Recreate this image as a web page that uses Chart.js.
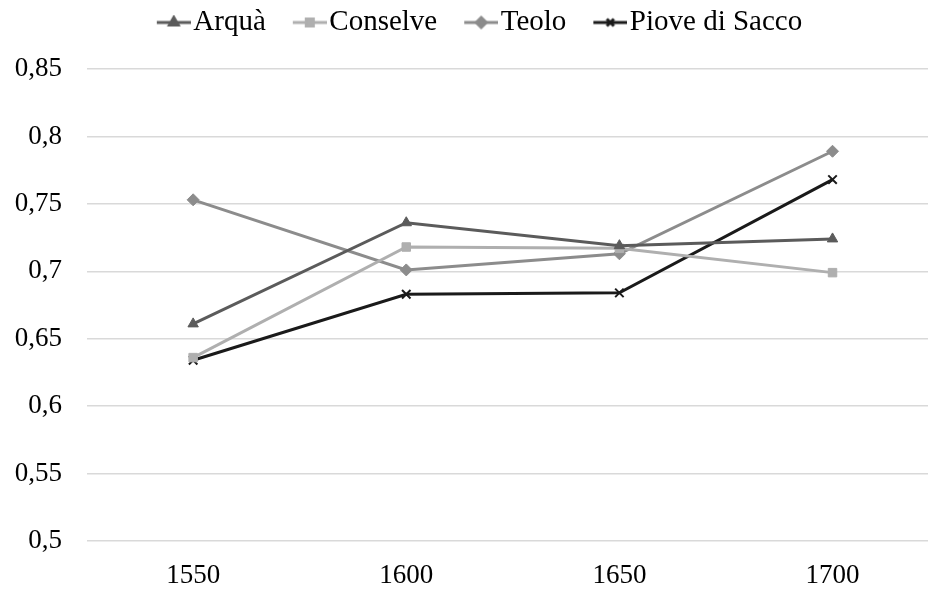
<!DOCTYPE html>
<html>
<head>
<meta charset="utf-8">
<script src="https://cdn.jsdelivr.net/npm/chart.js@4/dist/chart.umd.min.js"></script>
<style>
  html, body { margin: 0; padding: 0; background: #fff; }
  #wrap { width: 928px; height: 589px; }
</style>
</head>
<body>
<div id="wrap"><canvas id="chart" width="928" height="589"></canvas></div>
<script>
const years = [1550, 1600, 1650, 1700];
const arqua = [0.661, 0.736, 0.719, 0.724];
const conselve = [0.636, 0.718, 0.717, 0.699];
const teolo = [0.753, 0.701, 0.713, 0.789];
const pioveDiSacco = [0.634, 0.683, 0.684, 0.768];

const serifFont = "Liberation Serif";
const lead = 19;          // blank space before each legend symbol
const lineLen = 34;       // legend line length
const boxW = lead + 22;

function series(label, data, color, style, radius){
    return {
        label: label,
        data: years.map((yr, i) => ({ x: yr, y: data[i] })),
        borderColor: color,
        backgroundColor: color,
        borderWidth: 3,
        pointStyle: style,
        pointRadius: radius,
        pointBorderWidth: style === 'crossRot' ? 2 : 1,
        tension: 0
    };
}

/* legend symbol: short line with the marker in the middle */
function legendSymbol(ds){
    const c = document.createElement('canvas');
    c.width = boxW + 24;
    c.height = 16;
    const g = c.getContext('2d');
    const x0 = 12 + lead;
    g.strokeStyle = ds.borderColor;
    g.fillStyle = ds.backgroundColor;
    g.lineWidth = 3;
    g.beginPath();
    g.moveTo(x0, 8);
    g.lineTo(x0 + lineLen, 8);
    g.stroke();
    Chart.helpers.drawPoint(g, {
        pointStyle: ds.pointStyle,
        radius: ds.pointRadius - 1,
        borderWidth: ds.pointBorderWidth
    }, x0 + lineLen / 2, 8);
    return c;
}

const legendSpace = {
    id: 'legendSpace',
    beforeUpdate(chart){
        const lg = chart.legend;
        if (lg && !lg._patched){
            const fit = lg.fit;
            lg.fit = function(){ fit.call(this); this.height += 22; };
            lg._patched = true;
        }
    }
};

const datasets = [
    series("Arquà", arqua, "#5b5b5b", 'triangle', 6),
    series("Conselve", conselve, "#afafaf", 'rect', 6),
    series("Teolo", teolo, "#8c8c8c", 'rectRot', 6),
    series("Piove di Sacco", pioveDiSacco, "#1a1a1a", 'crossRot', 6)
];

const ctx = document.getElementById("chart").getContext("2d");
new Chart(ctx, {
    type: 'line',
    data: { datasets: datasets },
    plugins: [legendSpace],
    options: {
        responsive: false,
        animation: false,
        layout: { autoPadding: false, padding: { left: 12, right: 0, top: 0, bottom: 0 } },
        plugins: {
            legend: {
                position: 'top',
                labels: {
                    font: { family: serifFont, size: 29, lineHeight: 1 },
                    color: "#000",
                    usePointStyle: true,
                    pointStyleWidth: boxW,
                    boxHeight: 16,
                    padding: 8,
                    generateLabels: chart => chart.data.datasets.map((ds, i) => ({
                        text: ds.label,
                        fontColor: "#000",
                        pointStyle: legendSymbol(ds),
                        datasetIndex: i,
                        hidden: false,
                        lineWidth: 0
                    }))
                }
            },
            tooltip: { enabled: false }
        },
        scales: {
            x: {
                type: 'linear',
                min: 1525.1,
                max: 1722.4,
                afterBuildTicks: s => { s.ticks = years.map(v => ({ value: v })); },
                afterFit: s => { s.height = 48; s.paddingLeft = 0; s.paddingRight = 0; },
                grid: { display: false, drawTicks: false },
                border: { display: false },
                ticks: {
                    font: { family: serifFont, size: 27, lineHeight: 1 },
                    color: "#000",
                    padding: 21,
                    maxRotation: 0,
                    callback: v => String(v)
                }
            },
            y: {
                min: 0.5,
                max: 0.85,
                afterFit: s => { s.width = 75; },
                grid: { color: "#d9d9d9", lineWidth: 1.5, drawTicks: false },
                border: { display: false },
                ticks: {
                    stepSize: 0.05,
                    padding: 25,
                    font: { family: serifFont, size: 27, lineHeight: 1 },
                    color: "#000",
                    callback: v => String(Math.round(v * 100) / 100).replace(".", ",")
                }
            }
        }
    }
});
</script>
</body>
</html>
